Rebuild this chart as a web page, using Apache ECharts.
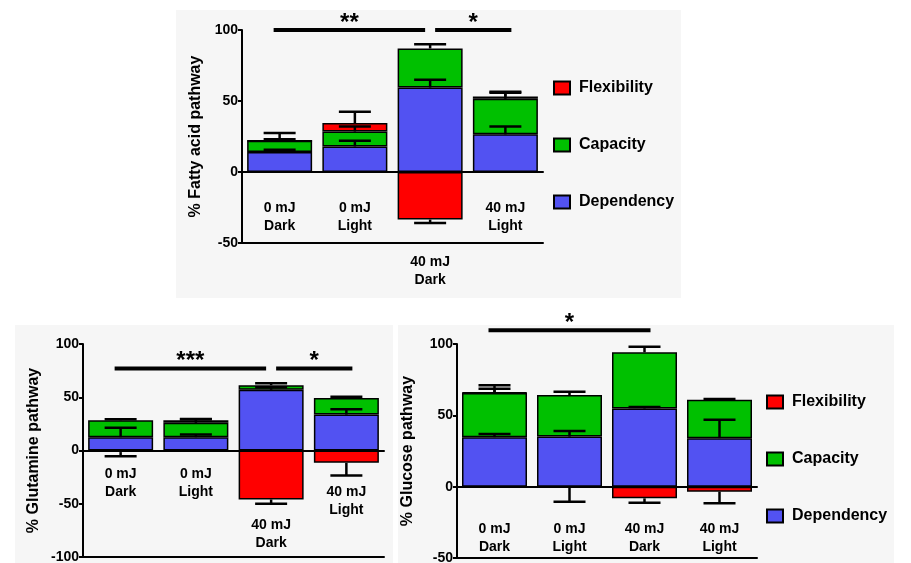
<!DOCTYPE html>
<html>
<head>
<meta charset="utf-8">
<script src="https://cdn.jsdelivr.net/npm/echarts@6/dist/echarts.min.js"></script>
<style>
  html, body { margin: 0; padding: 0; background: #fff; }
  #chart { width: 911px; height: 563px; }
</style>
</head>
<body>
<div id="chart"></div>
<script>
// categories shared by all three panels
const categories = ['0 mJ\nDark', '0 mJ\nLight', '40 mJ\nDark', '40 mJ\nLight']

// fatty acid pathway (%)
const fattyDependency = [14, 18, 59.5, 26.5]
const fattyCapacity = [8, 10.5, 27.5, 25]
const fattyFlexibility = [0, 6, -33.5, 1.6]
const fattyDependencySem = [1.7, 4, 5.5, 5.5]
const fattyCapacitySem = [5.4, 3.5, 3, 4.3]
const fattyFlexibilitySem = [1, 8, 2.5, 3.5]

// glutamine pathway (%)
const glnDependency = [12.5, 12.5, 57, 33.7]
const glnCapacity = [15.9, 13.5, 4.3, 15.7]
const glnFlexibility = [-1.5, 2.4, -46, -11.6]
const glnDependencySem = [8.8, 2.5, 2.5, 5]
const glnCapacitySem = [1, 3.5, 1.8, 1]
const glnFlexibilitySem = [3.8, 1, 4, 11.8]

// glucose pathway (%)
const gluDependency = [34.7, 35.1, 54.8, 34]
const gluCapacity = [30.9, 29.1, 39.4, 26.9]
const gluFlexibility = [0.3, -0.5, -8.2, -3.5]
const gluDependencySem = [2.3, 4, 1, 12.9]
const gluCapacitySem = [5.4, 2.3, 3.8, 0.5]
const gluFlexibilitySem = [2.8, 10, 3, 8.2]

// significance brackets: [from category, to category, value level]
const fattySig = [[0, 2, 100], [2, 3, 100]]
const fattySigText = ['**', '*']
const glnSig = [[0, 2, 77], [2, 3, 77]]
const glnSigText = ['***', '*']
const gluSig = [[0, 2, 109.6]]
const gluSigText = ['*']

const seriesNames = ['Flexibility', 'Capacity', 'Dependency']
const colors = { Dependency: '#5252f2', Capacity: '#00c000', Flexibility: '#ff0000' }
const font = '"Liberation Sans", Arial, sans-serif'

const panels = [
  {
    name: '% Fatty acid pathway', min: -50, max: 100,
    grid: { left: 242, top: 30, width: 301, height: 213 },
    nameGap: 38, labelMargin: 27, drop: [0, 0, 54, 0],
    dep: fattyDependency, cap: fattyCapacity, flex: fattyFlexibility,
    depSem: fattyDependencySem, capSem: fattyCapacitySem, flexSem: fattyFlexibilitySem,
    sig: fattySig, sigText: fattySigText
  },
  {
    name: '% Glutamine pathway', min: -100, max: 100,
    grid: { left: 83, top: 344, width: 301, height: 213 },
    nameGap: 41, labelMargin: 15, drop: [0, 0, 51, 18],
    dep: glnDependency, cap: glnCapacity, flex: glnFlexibility,
    depSem: glnDependencySem, capSem: glnCapacitySem, flexSem: glnFlexibilitySem,
    sig: glnSig, sigText: glnSigText
  },
  {
    name: '% Glucose pathway', min: -50, max: 100,
    grid: { left: 457, top: 344, width: 300, height: 214 },
    nameGap: 41, labelMargin: 33, drop: [0, 0, 0, 0],
    dep: gluDependency, cap: gluCapacity, flex: gluFlexibility,
    depSem: gluDependencySem, capSem: gluCapacitySem, flexSem: gluFlexibilitySem,
    sig: gluSig, sigText: gluSigText
  }
]

const chart = echarts.init(document.getElementById('chart'))

const grids = []
const xAxes = []
const yAxes = []
const series = []

panels.forEach((p, k) => {
  grids.push(Object.assign({ outerBoundsMode: 'none', containLabel: false }, p.grid))

  // zero line
  xAxes.push({
    gridIndex: k,
    type: 'category',
    data: categories,
    axisLine: { onZero: true, lineStyle: { color: '#000', width: 2 } },
    axisTick: { show: false },
    axisLabel: { show: false }
  })
  // bottom frame line
  xAxes.push({
    gridIndex: k,
    type: 'category',
    data: categories,
    position: 'bottom',
    axisLine: { onZero: false, lineStyle: { color: '#000', width: 2 } },
    axisTick: { show: false },
    axisLabel: { show: false }
  })

  yAxes.push({
    gridIndex: k,
    type: 'value',
    min: p.min,
    max: p.max,
    interval: 50,
    splitLine: { show: false },
    axisLine: { show: true, lineStyle: { color: '#000', width: 2 } },
    axisTick: { show: true, length: 4, lineStyle: { color: '#000', width: 2 } },
    axisLabel: { color: '#000', fontSize: 14, fontWeight: 'bold', margin: 4, fontFamily: font },
    name: p.name,
    nameLocation: 'middle',
    nameRotate: 90,
    nameGap: p.nameGap,
    nameTextStyle: { color: '#000', fontSize: 16, fontWeight: 'bold', fontFamily: font }
  })

  const values = { Dependency: p.dep, Capacity: p.cap, Flexibility: p.flex }
  ;['Dependency', 'Capacity', 'Flexibility'].forEach(name => {
    series.push({
      name,
      type: 'bar',
      stack: 'panel' + k,
      xAxisIndex: k * 2,
      yAxisIndex: k,
      barWidth: 65,
      itemStyle: { color: colors[name], borderColor: '#000', borderWidth: 1.5 },
      data: values[name],
      animation: false
    })
  })

  // error bars
  series.push({
    type: 'custom',
    xAxisIndex: k * 2,
    yAxisIndex: k,
    z: 5,
    clip: false,
    silent: true,
    animation: false,
    encode: { x: 0, y: 1 },
    data: categories.map((c, i) => [i, p.dep[i], p.cap[i], p.flex[i], p.depSem[i], p.capSem[i], p.flexSem[i]]),
    renderItem(params, api) {
      const i = api.value(0)
      const d = api.value(1)
      const c = api.value(2)
      const f = api.value(3)
      const segs = [
        [d, d + api.value(4)],
        [d + c, d + c + api.value(5)],
        f >= 0 ? [d + c + f, d + c + f + api.value(6)] : [f, f - api.value(6)]
      ]
      const children = []
      segs.forEach(s => {
        const a = api.coord([i, s[0]])
        const b = api.coord([i, s[1]])
        const st = { stroke: '#000', lineWidth: 2.5 }
        children.push({ type: 'line', shape: { x1: a[0], y1: a[1], x2: b[0], y2: b[1] }, style: st })
        children.push({ type: 'line', shape: { x1: b[0] - 16, y1: b[1], x2: b[0] + 16, y2: b[1] }, style: st })
      })
      return { type: 'group', children }
    }
  })

  // category labels, hung below the zero line
  series.push({
    type: 'custom',
    xAxisIndex: k * 2,
    yAxisIndex: k,
    z: 6,
    clip: false,
    silent: true,
    animation: false,
    encode: { x: 0 },
    data: categories.map((c, i) => [i]),
    renderItem(params, api) {
      const i = api.value(0)
      const pt = api.coord([i, 0])
      return {
        type: 'text',
        x: pt[0],
        y: pt[1] + p.labelMargin + p.drop[i],
        style: {
          text: categories[i],
          fontSize: 14, fontWeight: 'bold', fontFamily: font, fill: '#000',
          lineHeight: 18, align: 'center', verticalAlign: 'top'
        }
      }
    }
  })

  // significance bars
  series.push({
    type: 'custom',
    xAxisIndex: k * 2,
    yAxisIndex: k,
    z: 6,
    clip: false,
    silent: true,
    animation: false,
    encode: { x: 0, y: 2 },
    data: p.sig,
    renderItem(params, api) {
      const from = api.value(0)
      const to = api.value(1)
      const lvl = api.value(2)
      const a = api.coord([from, lvl])
      const b = api.coord([to, lvl])
      const shared = (cat) => p.sig.filter(s => s[0] === cat || s[1] === cat).length > 1
      const x1 = a[0] + (shared(from) ? 5 : -6)
      const x2 = b[0] + (shared(to) ? -5 : 6)
      return {
        type: 'group',
        children: [
          { type: 'line', shape: { x1, y1: a[1], x2, y2: a[1] }, style: { stroke: '#000', lineWidth: 4 } },
          {
            type: 'text',
            x: (x1 + x2) / 2,
            y: a[1] + 5,
            style: {
              text: p.sigText[params.dataIndex],
              fontSize: 24, fontWeight: 'bold', fontFamily: font, fill: '#000',
              align: 'center', verticalAlign: 'bottom'
            }
          }
        ]
      }
    }
  })
})

const legendBase = {
  data: seriesNames,
  orient: 'vertical',
  icon: 'rect',
  padding: 0,
  itemWidth: 16,
  itemHeight: 13,
  itemGap: 37,
  selectedMode: false,
  textStyle: { color: '#000', fontSize: 16, fontWeight: 'bold', lineHeight: 20, fontFamily: font, padding: [0, 0, 0, 4] }
}

chart.setOption({
  animation: false,
  textStyle: { fontFamily: font },
  graphic: [
    { type: 'rect', z: -10, shape: { x: 176, y: 10, width: 505, height: 288 }, style: { fill: '#f6f6f6' } },
    { type: 'rect', z: -10, shape: { x: 15, y: 325, width: 378, height: 238 }, style: { fill: '#f6f6f6' } },
    { type: 'rect', z: -10, shape: { x: 398, y: 325, width: 496, height: 238 }, style: { fill: '#f6f6f6' } }
  ],
  legend: [
    Object.assign({ left: 553, top: 78 }, legendBase),
    Object.assign({ left: 766, top: 392 }, legendBase)
  ],
  grid: grids,
  xAxis: xAxes,
  yAxis: yAxes,
  series
})
</script>
</body>
</html>
